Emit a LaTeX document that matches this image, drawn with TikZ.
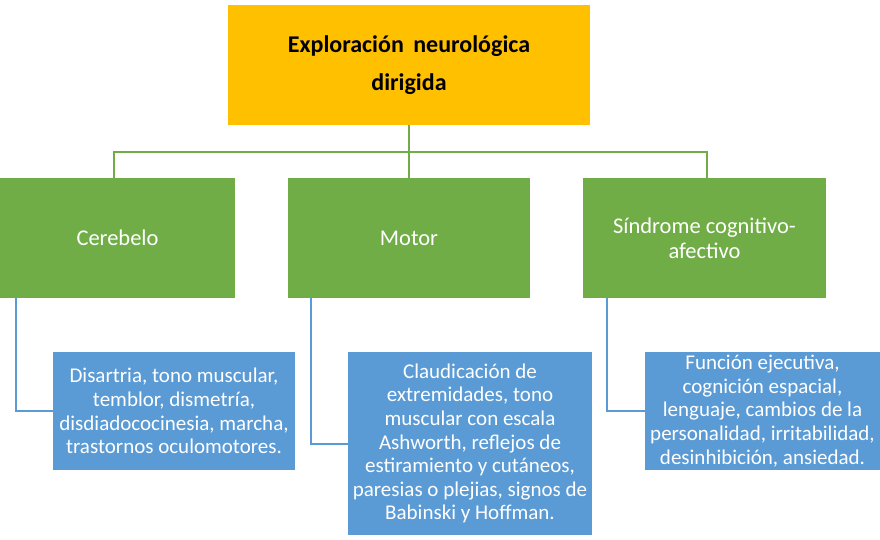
\documentclass[tikz,border=0pt]{standalone}
\usepackage{fontspec}
\setmainfont{Carlito}
\definecolor{gold}{HTML}{FFC000}
\definecolor{leaf}{HTML}{70AD47}
\definecolor{sky}{HTML}{5B9BD5}
\begin{document}
\begin{tikzpicture}[x=1pt,y=-1pt,
  topbox/.style={fill=gold, draw=none, minimum width=362pt, minimum height=120pt, align=center, font=\fontsize{24}{38}\selectfont\bfseries},
  greenbox/.style={fill=leaf, draw=none, minimum height=120pt, align=center, text=white, font=\fontsize{22.5}{25}\selectfont},
  bluebox/.style={fill=sky, draw=none, align=center, inner sep=1pt, text=white, font=\fontsize{21}{23.6}\selectfont},
  gline/.style={draw=leaf, line width=2pt},
  bline/.style={draw=sky, line width=2pt}]
\useasboundingbox (0,0) rectangle (880,540);
\node[topbox] (top) at (409,65) {Exploración\, neurológica\\dirigida};
\node[greenbox, minimum width=235pt] (g1) at (117.5,238) {Cerebelo};
\node[greenbox, minimum width=242pt] (g2) at (409,238) {Motor};
\node[greenbox, minimum width=243pt] (g3) at (704.5,238) {Síndrome cognitivo-\\afectivo};
\node[bluebox, minimum width=242pt, minimum height=118pt] (b1) at (174,411) {Disartria, tono muscular,\\temblor, dismetría,\\disdiadococinesia, marcha,\\trastornos oculomotores.};
\node[bluebox, minimum width=244pt, minimum height=183pt] (b2) at (470,443.5) {Claudicación de\\extremidades, tono\\muscular con escala\\Ashworth, reflejos de\\estiramiento y cutáneos,\\paresias o plejias, signos de\\Babinski y Hoffman.};
\node[bluebox, minimum width=235pt, minimum height=118pt] (b3) at (762.5,411) {Función ejecutiva,\\cognición espacial,\\lenguaje, cambios de la\\personalidad, irritabilidad,\\desinhibición, ansiedad.};
\coordinate (j) at (409,152);
\draw[gline] (top.south) -- (j);
\draw[gline] (j) -| ([xshift=-4pt]g1.north);
\draw[gline] (j) -- (g2.north);
\draw[gline] (j) -| ([xshift=2.5pt]g3.north);
\draw[bline] ([xshift=16pt]g1.south west) |- (b1.west);
\draw[bline] ([xshift=23pt]g2.south west) |- (b2.west);
\draw[bline] ([xshift=24pt]g3.south west) |- (b3.west);
\end{tikzpicture}
\end{document}
